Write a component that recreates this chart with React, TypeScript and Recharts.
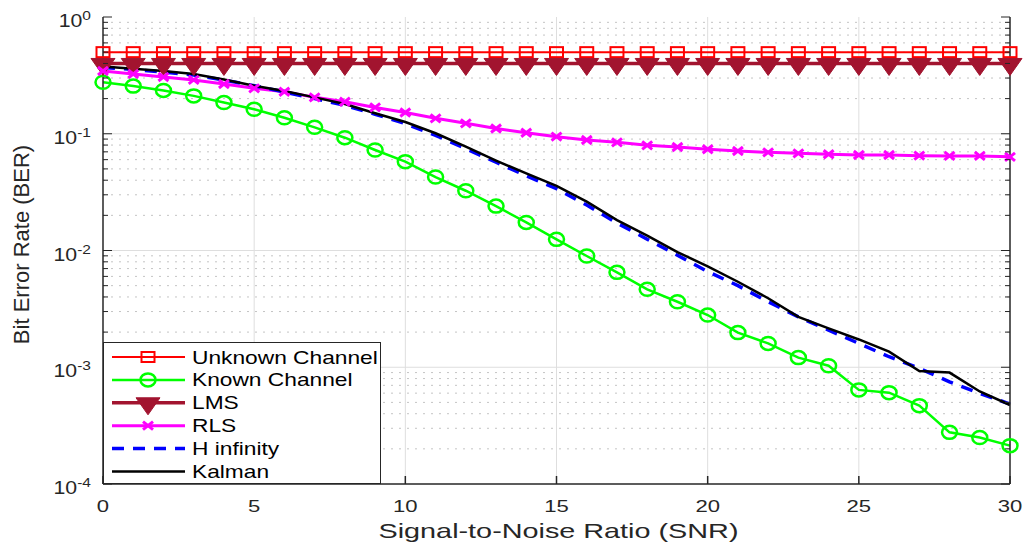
import { LineChart, Line, XAxis, YAxis, ReferenceLine } from "recharts";

// SNR points (dB)
const snr = [0, 1, 2, 3, 4, 5, 6, 7, 8, 9, 10, 11, 12, 13, 14, 15, 16, 17, 18, 19, 20, 21, 22, 23, 24, 25, 26, 27, 28, 29, 30];

const unknownBer = [0.5, 0.5, 0.5, 0.5, 0.5, 0.5, 0.5, 0.5, 0.5, 0.5, 0.5, 0.5, 0.5, 0.5, 0.5, 0.5, 0.5, 0.5, 0.5, 0.5, 0.5, 0.5, 0.5, 0.5, 0.5, 0.5, 0.5, 0.5, 0.5, 0.5, 0.5];
const knownBer = [0.276, 0.256, 0.235, 0.211, 0.185, 0.162, 0.137, 0.1135, 0.0925, 0.0726, 0.0577, 0.0426, 0.0325, 0.024, 0.0174, 0.01246, 0.00897, 0.0065, 0.00465, 0.00364, 0.0028, 0.00198, 0.0016, 0.00121, 0.00103, 0.00064, 0.000606, 0.000469, 0.000277, 0.00025, 0.000213];
const lmsBer = [0.4, 0.4, 0.4, 0.4, 0.4, 0.4, 0.4, 0.4, 0.4, 0.4, 0.4, 0.4, 0.4, 0.4, 0.4, 0.4, 0.4, 0.4, 0.4, 0.4, 0.4, 0.4, 0.4, 0.4, 0.4, 0.4, 0.4, 0.4, 0.4, 0.4, 0.4];
const rlsBer = [0.345, 0.325, 0.306, 0.289, 0.267, 0.245, 0.229, 0.205, 0.188, 0.168, 0.152, 0.1356, 0.1228, 0.111, 0.102, 0.0944, 0.0884, 0.0844, 0.0796, 0.077, 0.0736, 0.0711, 0.0693, 0.068, 0.0667, 0.0658, 0.0658, 0.0649, 0.0646, 0.0646, 0.0634];
const hinfBer = [0.37, 0.355, 0.338, 0.318, 0.288, 0.258, 0.228, 0.2, 0.175, 0.147, 0.122, 0.097, 0.0745, 0.057, 0.0437, 0.0338, 0.0245, 0.0172, 0.0125, 0.0091, 0.0066, 0.005, 0.00364, 0.0027, 0.00208, 0.0016, 0.00123, 0.00098, 0.00075, 0.000598, 0.000484];
const kalmanBer = [0.376, 0.36, 0.345, 0.325, 0.292, 0.258, 0.232, 0.205, 0.18, 0.15, 0.126, 0.101, 0.0775, 0.0588, 0.0458, 0.0358, 0.0262, 0.0182, 0.0134, 0.0097, 0.0073, 0.0054, 0.0039, 0.0027, 0.00215, 0.00173, 0.00136, 0.00093, 0.0009, 0.00062, 0.000475];

const xTicks = [0, 5, 10, 15, 20, 25, 30];
const xGrid = [5, 10, 15, 20, 25];
const decades = [1e-4, 1e-3, 1e-2, 1e-1, 1];
const decadeExp = ["-4", "-3", "-2", "-1", "0"];
const minorFactors = [2, 3, 4, 5, 6, 7, 8, 9];
const minorValues = decades.slice(0, 4).flatMap((d) => minorFactors.map((f) => d * f));
const yTicks = [...decades, ...minorValues].sort((a, b) => a - b);

const data = snr.map((s, i) => ({
  snr: s,
  unknown: unknownBer[i],
  known: knownBer[i],
  lms: lmsBer[i],
  rls: rlsBer[i],
  hinf: hinfBer[i],
  kalman: kalmanBer[i],
}));

const FONT = "'Liberation Sans', Arial, Helvetica, sans-serif";
const AXIS = "#262626";

// marker shapes
const Square = ({ cx, cy }: any) => (
  <rect x={cx - 6.5} y={cy - 5} width={13} height={10} fill="none" stroke="#FF0000" strokeWidth={2} />
);
const Circle = ({ cx, cy }: any) => (
  <ellipse cx={cx} cy={cy} rx={7.5} ry={6.5} fill="none" stroke="#00FF00" strokeWidth={2.5} />
);
const Tri = ({ cx, cy }: any) => (
  <polygon points={`${cx - 12},${cy - 5} ${cx + 12},${cy - 5} ${cx},${cy + 12}`} fill="#A2142F" stroke="#A2142F" strokeWidth={1} />
);
const Cross = ({ cx, cy }: any) => (
  <g stroke="#FF00FF" strokeWidth={3}>
    <line x1={cx - 5} y1={cy - 4} x2={cx + 5} y2={cy + 4} />
    <line x1={cx - 5} y1={cy + 4} x2={cx + 5} y2={cy - 4} />
  </g>
);

const series = [
  { key: "unknown", name: "Unknown Channel", color: "#FF0000", width: 2, dash: undefined, Marker: Square },
  { key: "known", name: "Known Channel", color: "#00FF00", width: 2.5, dash: undefined, Marker: Circle },
  { key: "lms", name: "LMS", color: "#A2142F", width: 3.5, dash: undefined, Marker: Tri },
  { key: "rls", name: "RLS", color: "#FF00FF", width: 3, dash: undefined, Marker: Cross },
  { key: "hinf", name: "H infinity", color: "#0000FF", width: 3.5, dash: "12 9", Marker: null },
  { key: "kalman", name: "Kalman", color: "#000000", width: 2.5, dash: undefined, Marker: null },
];

const majorIndex = (v: number) => decades.findIndex((d) => Math.abs(d - v) / d < 1e-6);

const LeftTick = (props: any) => {
  const { x, y, payload } = props;
  const idx = majorIndex(payload.value);
  const major = idx >= 0;
  return (
    <g>
      <line x1={x} x2={x + (major ? 9 : 5)} y1={y} y2={y} stroke={AXIS} strokeWidth={1} />
      {major && (
        <g transform={`translate(${x - 12},${y + 10}) scale(1.15,1)`}>
          <text x={0} y={0} textAnchor="end" fontSize={18.5} fill={AXIS} fontFamily={FONT}>
            10<tspan dy={-7} fontSize={13.5}>{decadeExp[idx]}</tspan>
          </text>
        </g>
      )}
    </g>
  );
};

const RightTick = (props: any) => {
  const { x, y, payload } = props;
  const major = majorIndex(payload.value) >= 0;
  return <line x1={x} x2={x - (major ? 9 : 5)} y1={y} y2={y} stroke={AXIS} strokeWidth={1} />;
};

const BottomTick = (props: any) => {
  const { x, y, payload } = props;
  return (
    <g>
      <line x1={x} x2={x} y1={y} y2={y - 8} stroke={AXIS} strokeWidth={1.5} />
      <g transform={`translate(${x},${y + 28}) scale(1.3,1)`}>
        <text x={0} y={0} textAnchor="middle" fontSize={17} fill={AXIS} fontFamily={FONT}>
          {payload.value}
        </text>
      </g>
    </g>
  );
};

const TopTick = (props: any) => {
  const { x, y } = props;
  return <line x1={x} x2={x} y1={y} y2={y + 8} stroke={AXIS} strokeWidth={1.5} />;
};

const yLabel = (props: any) => {
  const vb = props.viewBox || { x: 0, y: 17, width: 103, height: 467 };
  const cy = vb.y + vb.height / 2 - 6;
  return (
    <text x={29} y={cy} transform={`rotate(-90 29 ${cy})`} textAnchor="middle" fontSize={22} fill={AXIS} fontFamily={FONT}>
      Bit Error Rate (BER)
    </text>
  );
};

const xLabel = (props: any) => {
  const vb = props.viewBox || { x: 103, y: 484, width: 907, height: 60 };
  const cx = vb.x + vb.width / 2 + 2;
  return (
    <text x={cx} y={538} textAnchor="middle" fontSize={21} fill={AXIS} fontFamily={FONT} textLength={360} lengthAdjust="spacingAndGlyphs">
      Signal-to-Noise Ratio (SNR)
    </text>
  );
};

const LegendBox = () => (
  <svg width={279} height={143} style={{ position: "absolute", left: 103, top: 342 }}>
    <rect x={0.5} y={0.5} width={277} height={141} fill="#fff" stroke={AXIS} strokeWidth={1} />
    {series.map((s, i) => {
      const cy = 15 + i * 22.9;
      const M = s.Marker;
      return (
        <g key={s.key}>
          <line x1={9} x2={82} y1={cy} y2={cy} stroke={s.color} strokeWidth={s.width} strokeDasharray={s.dash} />
          {M && <M cx={45} cy={cy} />}
          <g transform={`translate(89,${cy + 6.5}) scale(1.3,1)`}>
            <text x={0} y={0} fontSize={17.5} fill="#000" fontFamily={FONT}>
              {s.name}
            </text>
          </g>
        </g>
      );
    })}
  </svg>
);

export default function App() {
  return (
    <div style={{ position: "relative", width: 1028, height: 544, background: "#fff" }}>
      <style>{"body{margin:0;background:#fff}"}</style>
      <LineChart width={1028} height={544} data={data} margin={{ top: 17, right: 0, left: 0, bottom: 0 }}>
        {xGrid.map((v) => (
          <ReferenceLine key={`vx${v}`} x={v} stroke="#dedede" strokeWidth={1} />
        ))}
        {minorValues.map((v) => (
          <ReferenceLine key={`mn${v}`} y={v} stroke="#c4c4c4" strokeWidth={1} strokeDasharray="2 6" />
        ))}
        {decades.slice(1, 4).map((v) => (
          <ReferenceLine key={`mj${v}`} y={v} stroke="#dedede" strokeWidth={1} />
        ))}
        <XAxis
          dataKey="snr"
          type="number"
          domain={[0, 30]}
          ticks={xTicks}
          interval={0}
          height={60}
          tickSize={0}
          tickMargin={0}
          tick={<BottomTick />}
          axisLine={{ stroke: AXIS, strokeWidth: 1.5 }}
          label={xLabel}
        />
        <XAxis
          xAxisId="top"
          orientation="top"
          dataKey="snr"
          type="number"
          domain={[0, 30]}
          ticks={xTicks}
          interval={0}
          height={0}
          tickSize={0}
          tickMargin={0}
          tick={<TopTick />}
          axisLine={{ stroke: AXIS, strokeWidth: 1.5 }}
        />
        <YAxis
          type="number"
          scale="log"
          domain={[1e-4, 1]}
          allowDataOverflow
          ticks={yTicks}
          interval={0}
          width={103}
          tickSize={0}
          tickMargin={0}
          tick={<LeftTick />}
          axisLine={{ stroke: AXIS, strokeWidth: 1.5 }}
          label={yLabel}
        />
        <YAxis
          yAxisId="right"
          orientation="right"
          type="number"
          scale="log"
          domain={[1e-4, 1]}
          allowDataOverflow
          ticks={yTicks}
          interval={0}
          width={18}
          tickSize={0}
          tickMargin={0}
          tick={<RightTick />}
          axisLine={{ stroke: AXIS, strokeWidth: 1.5 }}
        />
        {series.map((s) => {
          const M = s.Marker;
          return (
            <Line
              key={s.key}
              type="linear"
              dataKey={s.key}
              name={s.name}
              stroke={s.color}
              strokeWidth={s.width}
              strokeDasharray={s.dash}
              dot={M ? (p: any) => <M key={`${s.key}-${p.index}`} cx={p.cx} cy={p.cy} /> : false}
              activeDot={false}
              isAnimationActive={false}
            />
          );
        })}
      </LineChart>
      <LegendBox />
    </div>
  );
}
